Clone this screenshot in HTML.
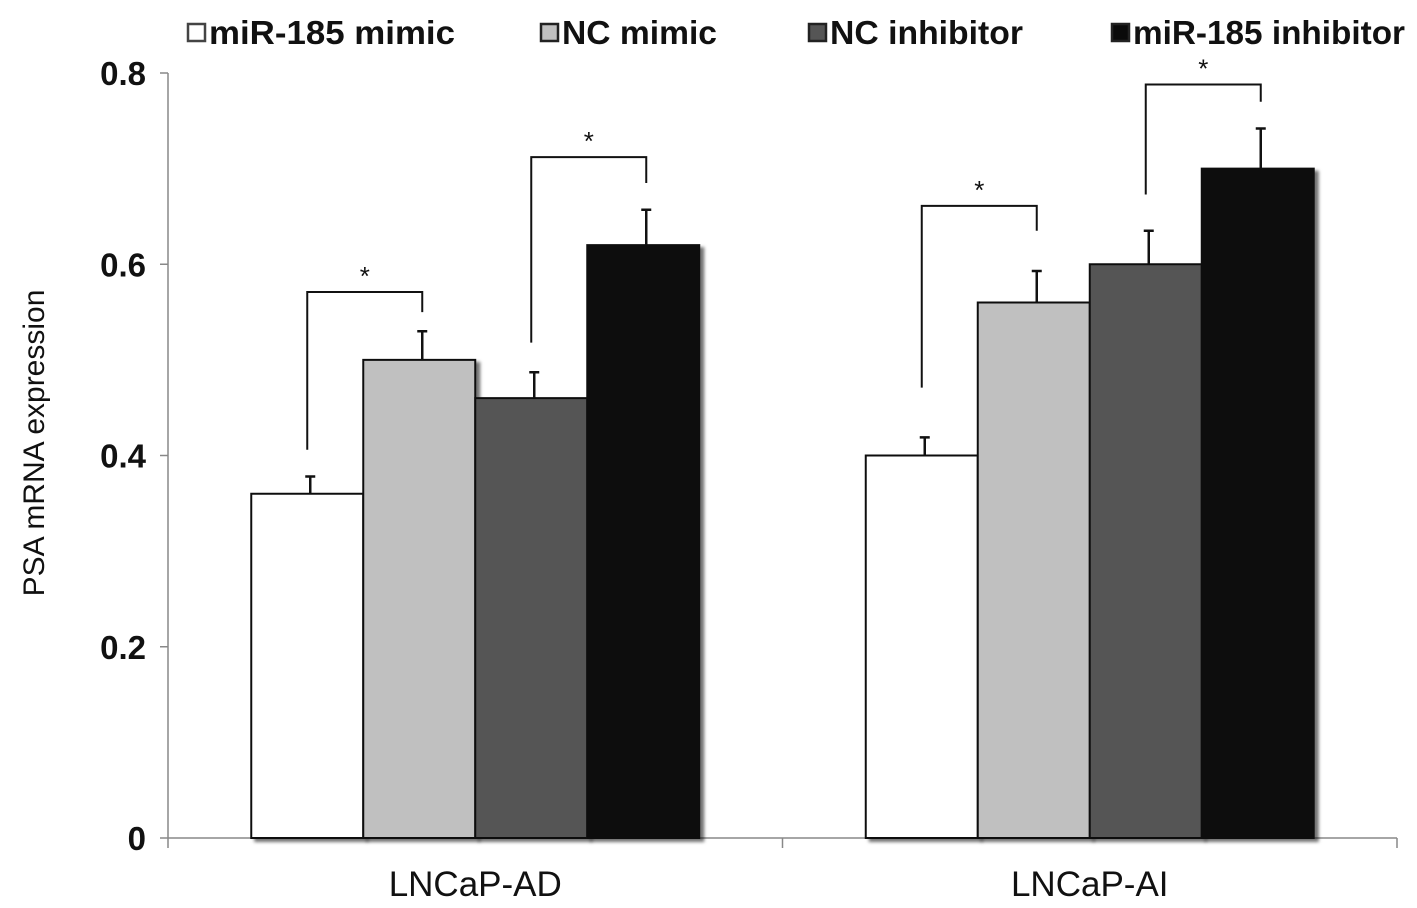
<!DOCTYPE html>
<html><head><meta charset="utf-8"><style>
body{margin:0;background:#fff;}
svg{display:block;font-family:"Liberation Sans",Arial,sans-serif;}
</style></head><body>
<svg id="chart" width="1417" height="908">
<defs><filter id="sh" x="-10%" y="-10%" width="130%" height="130%"><feDropShadow dx="4" dy="3" stdDeviation="1.5" flood-color="#000" flood-opacity="0.55"/></filter></defs>
<g id="axes"></g><g id="bars"></g><g id="legend"></g>
</svg>
<script>
const categories=["LNCaP-AD","LNCaP-AI"];
const seriesNames=["miR-185 mimic","NC mimic","NC inhibitor","miR-185 inhibitor"];
const seriesColors=["#ffffff","#c0c0c0","#555555","#0a0a0a"];
const valuesMimic=[0.36,0.40];
const valuesNCMimic=[0.50,0.56];
const valuesNCInhib=[0.46,0.60];
const valuesInhib=[0.62,0.70];
const errMimic=[0.018,0.019];
const errNCMimic=[0.030,0.033];
const errNCInhib=[0.027,0.035];
const errInhib=[0.037,0.042];
const yTicks=[0,0.2,0.4,0.6,0.8];
const yTickLabels=["0","0.2","0.4","0.6","0.8"];
// significance brackets: category, series A, series B, left-start value, top value, right-end value
const bracketCat=[0,0,1,1];
const bracketA=[0,2,0,2];
const bracketB=[1,3,1,3];
const bracketLeft=[0.406,0.518,0.471,0.673];
const bracketTop=[0.571,0.712,0.661,0.788];
const bracketRight=[0.55,0.685,0.635,0.77];

const NS="http://www.w3.org/2000/svg";
const X0=168,X1=1397,Y0=838,Y1=73;
const y=v=>Y0-(v/0.8)*(Y0-Y1);
const catW=(X1-X0)/categories.length;
const barW=112;
const barX=(c,s)=>X0+catW*c+catW/2-2*barW+s*barW;
function mk(tag,attrs,parent,text){const e=document.createElementNS(NS,tag);for(const k in attrs)e.setAttribute(k,attrs[k]);if(text!==undefined)e.textContent=text;parent.appendChild(e);return e;}
const axes=document.getElementById('axes'),bars=document.getElementById('bars'),leg=document.getElementById('legend');
let ax=mk('line',{x1:X0,y1:Y1,x2:X0,y2:Y0,stroke:'#888','stroke-width':1.5},axes);


ax=mk('line',{x1:X0,y1:Y0,x2:X1,y2:Y0,stroke:'#888','stroke-width':1.5},axes);


yTicks.forEach((t,i)=>{
 const tk=mk('line',{x1:X0-8,x2:X0,y1:y(t),y2:y(t),stroke:'#888','stroke-width':1.5},axes);
 
 
 const tl=mk('text',{x:146,y:y(t)+12,'text-anchor':'end','font-size':33,'font-weight':'bold',fill:'#111'},axes,yTickLabels[i]);
 
 
});
for(let c=0;c<=categories.length;c++){
 const tk=mk('line',{x1:X0+catW*c,x2:X0+catW*c,y1:Y0,y2:Y0+10,stroke:'#888','stroke-width':1.5},axes);
 
 
}
categories.forEach((c,i)=>{
 const t=mk('text',{x:X0+catW*i+catW/2,y:896,'text-anchor':'middle','font-size':35,fill:'#111'},axes,c);
 
 
});
const yt=mk('text',{x:0,y:0,transform:'translate(44,443) rotate(-90)','text-anchor':'middle','font-size':30,fill:'#111'},axes,'PSA mRNA expression');


const vals=[valuesMimic,valuesNCMimic,valuesNCInhib,valuesInhib];
const errs=[errMimic,errNCMimic,errNCInhib,errInhib];
categories.forEach((cat,c)=>{
 vals.forEach((arr,s)=>{
  const r=mk('rect',{x:barX(c,s),y:y(arr[c]),width:barW,height:Y0-y(arr[c]),fill:seriesColors[s],stroke:'#111','stroke-width':2,filter:'url(#sh)'},bars);
  
  
  const cx=barX(c,s)+barW/2+3,top=y(arr[c]+errs[s][c]);
  const e=mk('path',{d:`M${cx} ${y(arr[c])}V${top}M${cx-5} ${top}H${cx+5}`,stroke:'#111','stroke-width':2.5,fill:'none'},bars);
  
  
 });
});
bracketCat.forEach((c,i)=>{
 const xa=barX(c,bracketA[i])+barW/2,xb=barX(c,bracketB[i])+barW/2+3;
 const tp=y(bracketTop[i]);
 const p=mk('path',{d:`M${xa} ${y(bracketLeft[i])}V${tp}H${xb}V${y(bracketRight[i])}`,stroke:'#111','stroke-width':2,fill:'none'},bars);
 
 
 const s=mk('text',{x:(xa+xb)/2,y:tp-7,'text-anchor':'middle','font-size':26,fill:'#111'},bars,'*');
 
 
});
const legX=[188,541,809,1112];
seriesNames.forEach((n,i)=>{
 const g=mk('g',{},leg);
 
 
 mk('rect',{x:legX[i],y:24,width:17,height:17,fill:seriesColors[i],stroke:i===0?'#444':'#222','stroke-width':2.5},g);
 mk('text',{x:legX[i]+21,y:44,'font-size':33,'font-weight':'bold',fill:'#111','textLength':n==='miR-185 mimic'?246:n==='NC mimic'?155:n==='NC inhibitor'?193:272,'lengthAdjust':'spacingAndGlyphs'},g,n);
});
</script>
</body></html>
